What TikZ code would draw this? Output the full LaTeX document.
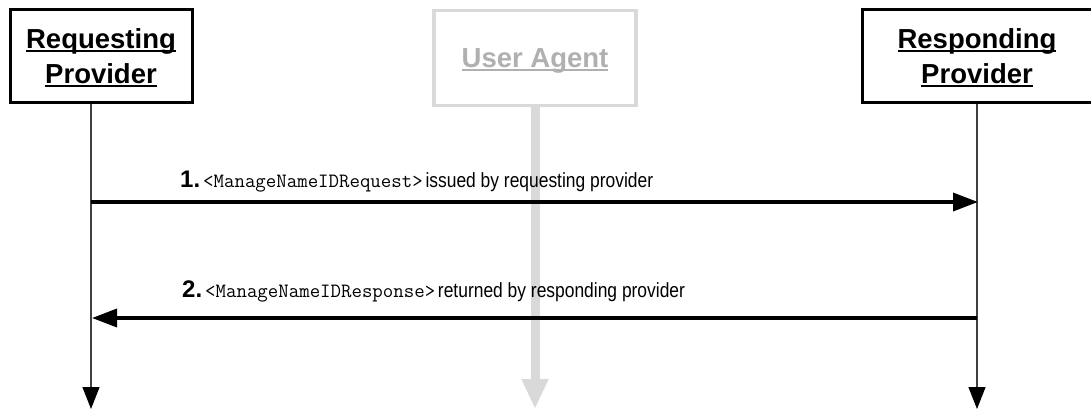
\documentclass[tikz,border=0pt]{standalone}
\usepackage{fontspec}
\setmainfont{Liberation Sans}
\newfontfamily\narrowfont{Liberation Sans}[FakeStretch=0.85]
\usetikzlibrary{arrows.meta}
\definecolor{uagray}{HTML}{D9D9D9}
\definecolor{uatext}{HTML}{B0B0B0}
\newcommand\myul[1]{\setbox0\hbox{#1}\rlap{\smash{\rule[-4pt]{\wd0}{2pt}}}\box0}
\newcommand\hdfont{\bfseries\fontsize{27.5}{35}\selectfont}
\newcommand\msgnum[1]{{\bfseries\fontsize{24}{24}\selectfont #1}\hspace{3pt}}
\newcommand\msgcode[1]{{\ttfamily\fontsize{20.3}{22}\selectfont #1}}
\newcommand\msgtext[1]{{\narrowfont\fontsize{20.5}{22}\selectfont #1}}
\begin{document}
\begin{tikzpicture}[x=1pt,y=-1pt,
  actor/.style={draw=black, line width=3pt, fill=white, align=center, inner sep=0pt, font=\hdfont},
  agent/.style={draw=uagray, line width=3.5pt, fill=white, align=center, inner sep=0pt, text=uatext, font=\hdfont, text depth=0pt},
  life/.style={draw=black!75, line width=1.2pt, -{Triangle[length=22pt,width=17pt,color=black]}},
  agentlife/.style={draw=uagray, line width=9pt, -{Triangle[length=30pt,width=25pt]}},
  msg/.style={draw=black, line width=3.5pt, -{Triangle[length=25pt,width=18pt]}},
  lbl/.style={anchor=base west, inner sep=0pt}
]
\useasboundingbox (0,0) rectangle (1091,410);
% lifeline ends
\coordinate (reqend) at (91,409);
\coordinate (respend) at (977,409);
\coordinate (uaend) at (535,409);
% actors
\node[agent, minimum width=202pt, minimum height=95pt] (ua) at (535,58) {\myul{User Agent}};
\draw[agentlife] (ua.south) -- (uaend);
\draw[life] (91,102) -- (reqend);
\draw[life] (977,102) -- (respend);
\node[actor, minimum width=182pt, minimum height=93pt] (req) at (101,56) {\myul{Requesting}\\\myul{Provider}};
\node[actor, minimum width=230pt, minimum height=93pt] (resp) at (977,56) {\myul{Responding}\\\myul{Provider}};
% message anchors on lifelines
\coordinate (r1) at (91,202);
\coordinate (p1) at (978,202);
\coordinate (r2) at (92,318);
\coordinate (p2) at (977,318);
\draw[msg] (r1) -- (p1);
\draw[msg] (p2) -- (r2);
\node[lbl] (l1) at (180,187) {\msgnum{1.}\msgcode{<ManageNameIDRequest>} \msgtext{issued by requesting provider}};
\node[lbl] (l2) at (182,297) {\msgnum{2.}\msgcode{<ManageNameIDResponse>} \msgtext{returned by responding provider}};
\end{tikzpicture}
\end{document}
